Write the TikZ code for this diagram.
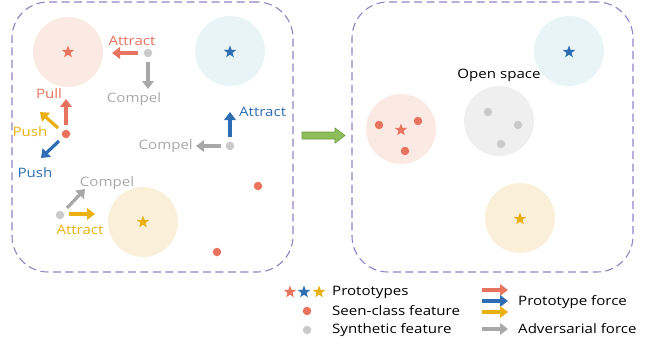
\documentclass[tikz,border=0pt]{standalone}
\usepackage{fontspec}
\setmainfont[FakeStretch=1.16]{Open Sans}
\usetikzlibrary{shapes.geometric,arrows.meta}

\definecolor{cred}{HTML}{E8735F}
\definecolor{cblue}{HTML}{2E6DB4}
\definecolor{cyellow}{HTML}{E9B10F}
\definecolor{cgray}{HTML}{A8A8A8}
\definecolor{dotgray}{HTML}{CACACA}
\definecolor{fred}{HTML}{FBEAE3}
\definecolor{fblue}{HTML}{E8F4F6}
\definecolor{fyellow}{HTML}{FAF0DA}
\definecolor{fgray}{HTML}{EFEFEF}
\definecolor{cpanel}{HTML}{9282C4}
\definecolor{gfill}{HTML}{8DBE5A}
\definecolor{gdraw}{HTML}{6A9A3C}

\tikzset{
  panel/.style={draw=cpanel, line width=1.1pt, dash pattern=on 8pt off 4.5pt,
    rounded corners=36pt, minimum width=281pt, minimum height=270pt, inner sep=0pt},
  region/.style={circle, minimum size=70pt, inner sep=0pt},
  proto/.style={star, star points=5, star point ratio=2.4, minimum size=13pt, inner sep=0pt, fill=#1},
  feat/.style={circle, minimum size=8.5pt, inner sep=0pt, fill=#1},
  force/.style={line width=3.2pt, draw=#1, -{Triangle[length=8pt,width=11.5pt]}},
  lbl/.style={text=#1, font=\fontsize{13}{15}\selectfont, inner sep=0pt},
}

\begin{document}
\begin{tikzpicture}[x=1pt, y=-1pt]
\useasboundingbox (0,0) rectangle (650,345);

% ---------- left panel ----------
\node[panel] (L) at (152.5,137) {};
\node[region, fill=fred] (Lr) at (68,52) {};
\node[region, fill=fblue] (Lb) at (230,51) {};
\node[region, fill=fyellow] (Ly) at (143,222) {};
\node[proto=cred] (Lrs) at (68,52) {};
\node[proto=cblue] (Lbs) at (230,52) {};
\node[proto=cyellow] (Lys) at (143,222) {};

% synthetic feature near the red prototype
\node[feat=dotgray] (g1) at (148,53) {};
\coordinate (g1a) at (112,53);
\coordinate (g1c) at (148,89);
\draw[force=cred] (g1) ++(-10,0) -- (g1a);
\draw[force=cgray] (g1) ++(0,9) -- (g1c);
\node[lbl=cred] (t1) at (132,41) {Attract};
\node[lbl=cgray] (t2) at (134,99) {Compel};

% seen-class feature with its three forces
\node[feat=cred] (r1) at (66,134) {};
\coordinate (r1p) at (66,99);
\coordinate (r1y) at (40,112);
\coordinate (r1b) at (41,158);
\draw[force=cred] (r1) ++(0,-9) -- (r1p);
\draw[force=cyellow] (r1) ++(-8,-6) -- (r1y);
\draw[force=cblue] (r1) ++(-7,7) -- (r1b);
\node[lbl=cred] (t3) at (49,94) {Pull};
\node[lbl=cyellow] (t4) at (30,132) {Push};
\node[lbl=cblue] (t5) at (35,173) {Push};

% synthetic feature near the blue prototype
\node[feat=dotgray] (g2) at (230,146) {};
\coordinate (g2a) at (230,112);
\coordinate (g2c) at (196,146);
\draw[force=cblue] (g2) ++(0,-9) -- (g2a);
\draw[force=cgray] (g2) ++(-9,0) -- (g2c);
\node[lbl=cblue, anchor=west] (t6) at (239,112) {Attract};
\node[lbl=cgray, anchor=east] (t7) at (193,146) {Compel};

% synthetic feature near the yellow prototype
\node[feat=dotgray] (g3) at (60,215) {};
\coordinate (g3c) at (85,189);
\coordinate (g3a) at (95,214);
\draw[force=cgray] (g3) ++(7,-7) -- (g3c);
\draw[force=cyellow] (g3) ++(9,-1) -- (g3a);
\node[lbl=cgray] (t8) at (107,183) {Compel};
\node[lbl=cyellow] (t9) at (80,230) {Attract};

% isolated seen-class features
\node[feat=cred] (r2) at (258,186) {};
\node[feat=cred] (r3) at (217,252) {};

% ---------- transition arrow ----------
\draw[fill=gfill, draw=gdraw, line width=0.6pt]
  (302,132) -- (335,132) -- (335,128) -- (345,135.5) -- (335,143) -- (335,139) -- (302,139) -- cycle;

% ---------- right panel ----------
\node[panel] (R) at (492.5,137) {};
\node[region, fill=fblue] (Rb) at (569,51) {};
\node[proto=cblue] (Rbs) at (569,52) {};
\node[region, fill=fgray] (Rg) at (499,121) {};
\node[font=\fontsize{13}{15}\selectfont, inner sep=0pt] (open) at (499,75) {Open space};
\node[feat=dotgray] (s1) at (488,112) {};
\node[feat=dotgray] (s2) at (518,125) {};
\node[feat=dotgray] (s3) at (501,144) {};
\node[region, fill=fred] (Rr) at (401,129) {};
\node[proto=cred] (Rrs) at (401,130) {};
\node[feat=cred] (q1) at (379,125) {};
\node[feat=cred] (q2) at (418,121) {};
\node[feat=cred] (q3) at (405,151) {};
\node[region, fill=fyellow] (Ry) at (520,218) {};
\node[proto=cyellow] (Rys) at (520,219) {};

% ---------- legend ----------
\node[proto=cred] (k1) at (290,292) {};
\node[proto=cblue] (k2) at (304,292) {};
\node[proto=cyellow] (k3) at (319,292) {};
\node[lbl=black, anchor=west] (k4) at (332,292) {Prototypes};
\node[feat=cred] (k5) at (307,311) {};
\node[lbl=black, anchor=west] (k6) at (332,311) {Seen-class feature};
\node[feat=dotgray] (k7) at (307,330) {};
\node[lbl=black, anchor=west] (k8) at (332,330) {Synthetic feature};
\coordinate (a1s) at (482,290); \coordinate (a1e) at (508,290);
\coordinate (a2s) at (482,301); \coordinate (a2e) at (508,301);
\coordinate (a3s) at (482,312); \coordinate (a3e) at (508,312);
\coordinate (a4s) at (482,329); \coordinate (a4e) at (508,329);
\draw[force=cred] (a1s) -- (a1e);
\draw[force=cblue] (a2s) -- (a2e);
\draw[force=cyellow] (a3s) -- (a3e);
\draw[force=cgray] (a4s) -- (a4e);
\node[lbl=black, anchor=west] (k9) at (518,302) {Prototype force};
\node[lbl=black, anchor=west] (k10) at (518,329) {Adversarial force};
\end{tikzpicture}
\end{document}
